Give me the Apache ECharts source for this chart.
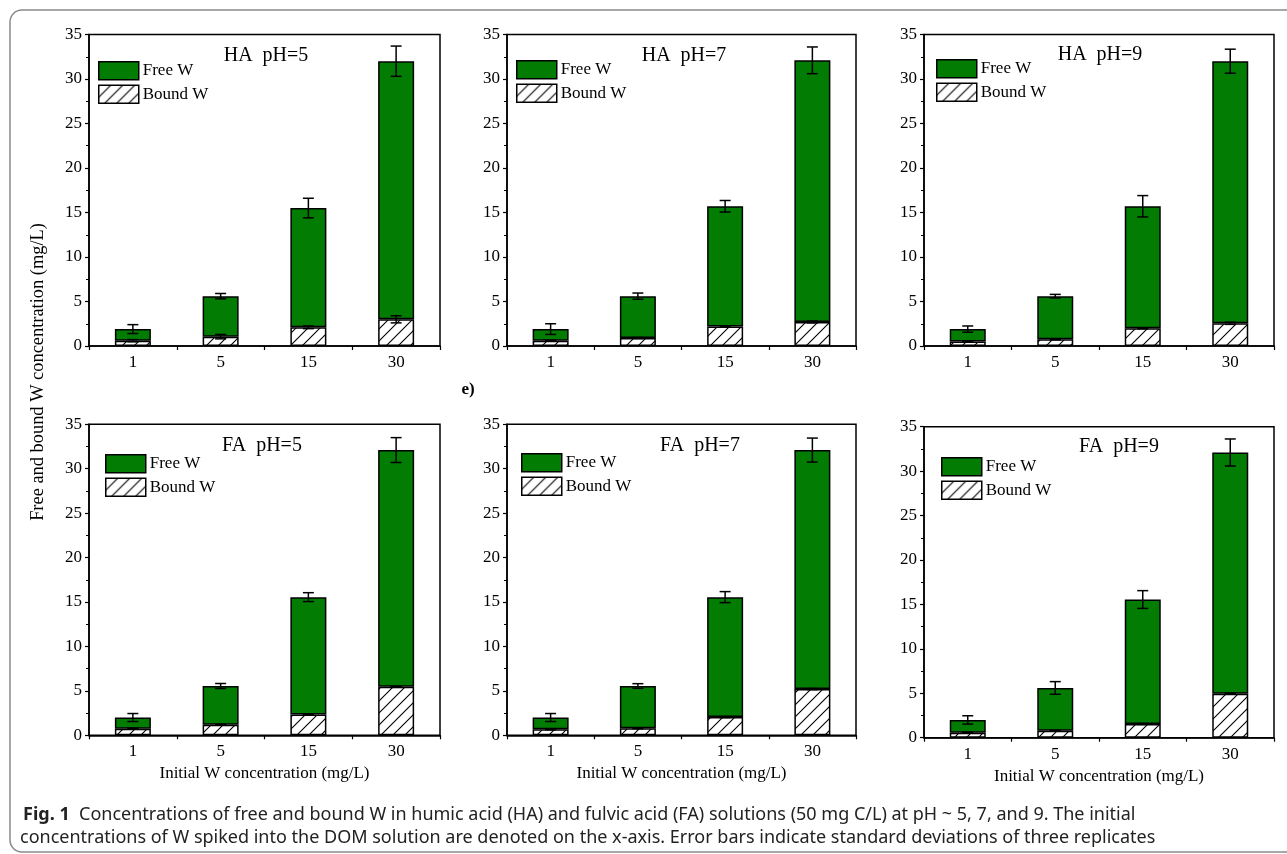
<!DOCTYPE html>
<html><head><meta charset="utf-8">
<script src="https://cdn.jsdelivr.net/npm/echarts@6/dist/echarts.min.js"></script>
<style>html,body{margin:0;padding:0;background:#fff}#c{width:1287px;height:854px}</style>
</head><body><div id="c"></div>
<script>
// ---- data ----
const categories = ['1', '5', '15', '30'];
const panelTitles = ['HA  pH=5', 'HA  pH=7', 'HA  pH=9', 'FA  pH=5', 'FA  pH=7', 'FA  pH=9'];
const totalW = [
  [1.9, 5.6, 15.5, 32.0],
  [1.9, 5.6, 15.7, 32.1],
  [1.9, 5.6, 15.7, 32.0],
  [2.0, 5.55, 15.55, 32.1],
  [2.0, 5.55, 15.55, 32.1],
  [2.0, 5.6, 15.55, 32.1]
];
const totalErr = [
  [0.5, 0.3, 1.1, 1.7],
  [0.6, 0.35, 0.65, 1.5],
  [0.35, 0.2, 1.2, 1.35],
  [0.45, 0.28, 0.5, 1.4],
  [0.45, 0.26, 0.62, 1.35],
  [0.47, 0.71, 1.0, 1.52]
];
const boundW = [
  [0.6, 1.05, 2.1, 3.0],
  [0.6, 0.9, 2.2, 2.7],
  [0.5, 0.75, 2.0, 2.55],
  [0.75, 1.2, 2.35, 5.45],
  [0.68, 0.8, 2.05, 5.2],
  [0.56, 0.79, 1.55, 4.95]
];
const boundErr = [
  [0.12, 0.25, 0.15, 0.4],
  [0.05, 0.05, 0.05, 0.1],
  [0.05, 0.05, 0.05, 0.12],
  [0.05, 0.05, 0.05, 0.05],
  [0.05, 0.05, 0.05, 0.05],
  [0.05, 0.05, 0.05, 0.05]
];
const yTicks = {min: 0, max: 35, interval: 5};
const xTitle = 'Initial W concentration (mg/L)';
const yTitle = 'Free and bound W concentration (mg/L)';
const captionBold = 'Fig. 1';
const captionLine1 = 'Concentrations of free and bound W in humic acid (HA) and fulvic acid (FA) solutions (50 mg C/L) at pH ~ 5, 7, and 9. The initial';
const captionLine2 = 'concentrations of W spiked into the DOM solution are denoted on the x-axis. Error bars indicate standard deviations of three replicates';

// ---- layout ----
const grids = [
  {left: 89, top: 34.5, width: 351, height: 311.5},
  {left: 507, top: 34.5, width: 349, height: 311.5},
  {left: 924, top: 34.5, width: 350, height: 311.5},
  {left: 89, top: 424.3, width: 351, height: 311},
  {left: 507, top: 424.3, width: 349, height: 311},
  {left: 924, top: 426.7, width: 350, height: 311}
];
const legendPos = [[98, 61], [516, 60], [936, 59], [105, 454], [521, 453], [941, 457]];
const titlePos = [[266, 56], [684, 56], [1100, 55], [262, 446], [700, 446], [1119, 447]];

const SERIF = "'Liberation Serif', 'Times New Roman', serif";
const SANS = "'Noto Sans', 'Open Sans', sans-serif";
const GREEN = '#037c03';

// hatch pattern
const pc = document.createElement('canvas');
pc.width = 12; pc.height = 12;
const g = pc.getContext('2d');
g.fillStyle = '#fff'; g.fillRect(0, 0, 12, 12);
g.strokeStyle = '#000'; g.lineWidth = 1.1;
g.beginPath();
g.moveTo(-1, 13); g.lineTo(13, -1);
g.moveTo(-7, 7); g.lineTo(7, -7);
g.moveTo(5, 19); g.lineTo(19, 5);
g.stroke();
const hatch = {image: pc, repeat: 'repeat'};

function errRender(params, api) {
  const x = api.value(0), y = api.value(1), e = api.value(2);
  const hi = api.coord([x, y + e]);
  const lo = api.coord([x, y - e]);
  const hw = 5.5;
  const st = {stroke: '#000', lineWidth: 1.5};
  return {type: 'group', children: [
    {type: 'line', shape: {x1: hi[0], y1: hi[1], x2: lo[0], y2: lo[1]}, style: st},
    {type: 'line', shape: {x1: hi[0] - hw, y1: hi[1], x2: hi[0] + hw, y2: hi[1]}, style: st},
    {type: 'line', shape: {x1: lo[0] - hw, y1: lo[1], x2: lo[0] + hw, y2: lo[1]}, style: st}
  ]};
}

const option = {
  animation: false,
  backgroundColor: '#fff',
  grid: [], xAxis: [], yAxis: [], series: [], legend: [], graphic: []
};

for (let p = 0; p < 6; p++) {
  option.grid.push(Object.assign({show: true, borderColor: '#000', borderWidth: 1.5, backgroundColor: 'transparent'}, grids[p]));
  option.xAxis.push({
    type: 'category', gridIndex: p, data: categories,
    axisLine: {lineStyle: {color: '#000', width: 1.5}},
    axisTick: {show: true, length: 4, lineStyle: {color: '#000', width: 1.2}},
    axisLabel: {color: '#000', fontFamily: SERIF, fontSize: 17, margin: 8},
    name: p >= 3 ? xTitle : '', nameLocation: 'middle', nameGap: 30,
    nameTextStyle: {color: '#000', fontFamily: SERIF, fontSize: 17}
  });
  option.yAxis.push({
    type: 'value', gridIndex: p, min: yTicks.min, max: yTicks.max, interval: yTicks.interval,
    axisLine: {show: true, lineStyle: {color: '#000', width: 1.5}},
    axisTick: {show: true, length: 4, lineStyle: {color: '#000', width: 1.2}},
    minorTick: {show: true, splitNumber: 2, length: 3, lineStyle: {color: '#000', width: 1}},
    splitLine: {show: false},
    axisLabel: {color: '#000', fontFamily: SERIF, fontSize: 17, margin: 7}
  });
  const free = totalW[p].map((t, i) => +(t - boundW[p][i]).toFixed(3));
  option.series.push({
    name: 'Bound W', type: 'bar', xAxisIndex: p, yAxisIndex: p, stack: 's' + p,
    barWidth: 36, data: boundW[p],
    itemStyle: {color: hatch, borderColor: '#000', borderWidth: 1.5}
  });
  option.series.push({
    name: 'Free W', type: 'bar', xAxisIndex: p, yAxisIndex: p, stack: 's' + p,
    barWidth: 36, data: free,
    itemStyle: {color: GREEN, borderColor: '#000', borderWidth: 1.5}
  });
  option.series.push({
    type: 'custom', xAxisIndex: p, yAxisIndex: p, z: 5, renderItem: errRender,
    encode: {x: 0, y: 1},
    data: totalW[p].map((v, i) => [i, v, totalErr[p][i]])
  });
  option.series.push({
    type: 'custom', xAxisIndex: p, yAxisIndex: p, z: 5, renderItem: errRender,
    encode: {x: 0, y: 1},
    data: boundW[p].map((v, i) => [i, v, boundErr[p][i]])
  });
  option.legend.push({
    data: ['Free W', 'Bound W'], orient: 'vertical',
    left: legendPos[p][0], top: legendPos[p][1], padding: 0,
    itemWidth: 40, itemHeight: 18, itemGap: 4, selectedMode: false,
    icon: 'rect',
    itemStyle: {borderColor: '#000', borderWidth: 1.5},
    textStyle: {color: '#000', fontFamily: SERIF, fontSize: 17, padding: [0, 0, 0, -1]}
  });
  option.graphic.push({
    type: 'text', x: titlePos[p][0], y: titlePos[p][1],
    style: {text: panelTitles[p], fill: '#000', font: '20px ' + SERIF, textAlign: 'center', textVerticalAlign: 'middle'}
  });
}

option.graphic.push(
  {type: 'rect', shape: {x: 10, y: 10, width: 1300, height: 842, r: 12}, style: {fill: 'none', stroke: '#8a8a8a', lineWidth: 1.5}, z: -1},
  {type: 'text', x: 38, y: 372, rotation: Math.PI / 2,
   style: {text: yTitle, fill: '#000', font: '18.4px ' + SERIF, textAlign: 'center', textVerticalAlign: 'middle'}},
  {type: 'text', x: 468, y: 390,
   style: {text: 'e)', fill: '#000', font: 'bold 17px ' + SERIF, textAlign: 'center', textVerticalAlign: 'middle'}},
  {type: 'text', x: 23, y: 815,
   style: {text: '{b|' + captionBold + '}  ' + captionLine1, fill: '#222', fontFamily: SANS, fontSize: 18, textVerticalAlign: 'middle',
     rich: {b: {fontWeight: 'bold', fontSize: 18, fill: '#222', fontFamily: SANS}}}},
  {type: 'text', x: 20, y: 838,
   style: {text: captionLine2, fill: '#222', fontFamily: SANS, fontSize: 18, textVerticalAlign: 'middle'}}
);

const chart = echarts.init(document.getElementById('c'), null, {renderer: 'canvas'});
chart.setOption(option);
</script></body></html>
